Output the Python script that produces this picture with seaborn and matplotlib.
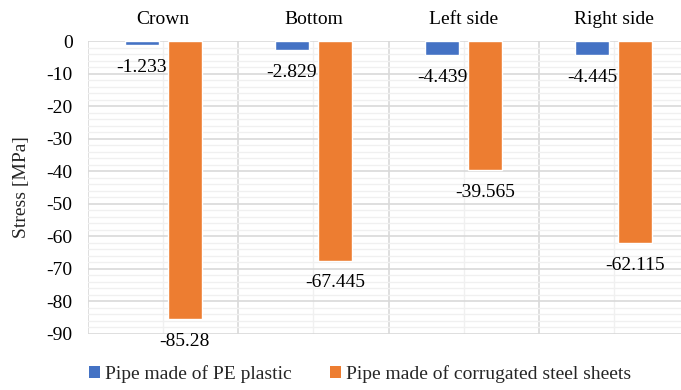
import matplotlib
matplotlib.use("Agg")
import matplotlib.pyplot as plt
import matplotlib.transforms as mtransforms
import seaborn as sns
import pandas as pd
from matplotlib.ticker import MultipleLocator
from matplotlib.patches import Patch

locations = ["Crown", "Bottom", "Left side", "Right side"]
series_names = ["Pipe made of PE plastic", "Pipe made of corrugated steel sheets"]
pe_values = [-1.233, -2.829, -4.439, -4.445]
steel_values = [-85.28, -67.445, -39.565, -62.115]
pe_labels = ["-1.233", "-2.829", "-4.439", "-4.445"]
steel_labels = ["-85.28", "-67.445", "-39.565", "-62.115"]
yticks = [0, -10, -20, -30, -40, -50, -60, -70, -80, -90]

colors = ["#4472C4", "#ED7D31"]
FS = 14

sns.set_theme(style="white")
plt.rcParams["font.family"] = ["Liberation Serif", "DejaVu Serif"]
plt.rcParams["axes.unicode_minus"] = False

df = pd.DataFrame({
    "location": locations * 2,
    "stress": pe_values + steel_values,
    "pipe": [series_names[0]] * 4 + [series_names[1]] * 4,
})

fig = plt.figure(figsize=(6.81, 3.90), dpi=100)
ax = fig.add_axes([88 / 681, 1 - 334 / 390, 601 / 681, 293 / 390])

sns.barplot(data=df, x="location", y="stress", hue="pipe", order=locations,
            hue_order=series_names, palette=colors, width=0.573, gap=0.21,
            saturation=1, legend=False, ax=ax, zorder=3)

ax.set_ylim(-90, 0)
ax.set_xlim(-0.5, 3.5)
ax.yaxis.set_minor_locator(MultipleLocator(2))
ax.set_yticks(yticks)
ax.set_yticklabels([str(v) for v in yticks])

# category separators (major) and centre lines (minor)
ax.set_xticks([-0.5, 0.5, 1.5, 2.5, 3.5], minor=False)
ax.set_xticks([0, 1, 2, 3], minor=True)
ax.set_xticklabels([])
ax.grid(which="major", axis="both", color="#D9D9D9", linewidth=1.2, zorder=0)
ax.grid(which="minor", axis="both", color="#F0F0F0", linewidth=1.0, zorder=0)
ax.set_axisbelow(True)
ax.tick_params(which="both", length=0)
ax.tick_params(axis="y", labelsize=FS, pad=11, colors="#000000")

# category names across the top
top_offset = ax.get_xaxis_transform() + mtransforms.ScaledTranslation(0, 9 / 72, fig.dpi_scale_trans)
for i, name in enumerate(locations):
    ax.text(i, 1.0, name, transform=top_offset, ha="center",
            va="bottom", fontsize=FS, color="#000000")

for sp in ax.spines.values():
    sp.set_visible(False)

ax.set_xlabel("")
ax.set_ylabel("Stress [MPa]", fontsize=FS, labelpad=12)

for container, labels in zip(ax.containers, [pe_labels, steel_labels]):
    ax.bar_label(container, labels=labels, padding=10, fontsize=FS, color="#000000")

handles = [Patch(facecolor=c, edgecolor="none") for c in colors]
fig.legend(handles, series_names, loc="center", bbox_to_anchor=(360 / 681, 1 - 374 / 390),
           ncol=2, frameon=False, fontsize=FS, handlelength=0.55, handleheight=0.55,
           handletextpad=0.25, columnspacing=2.0, borderpad=0)

fig.savefig("out.png", dpi=100)
